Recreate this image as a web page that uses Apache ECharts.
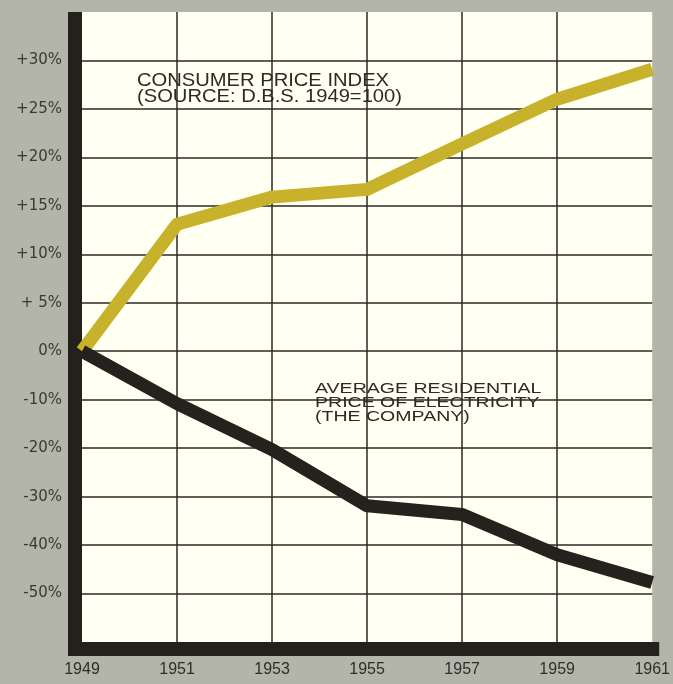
<!DOCTYPE html>
<html>
<head>
<meta charset="utf-8">
<script src="https://cdn.jsdelivr.net/npm/echarts@6/dist/echarts.min.js"></script>
<style>
  html, body { margin: 0; padding: 0; background: #b3b4aa; }
  #chart { width: 673px; height: 684px; }
</style>
</head>
<body>
<div id="chart"></div>
<script>
// Years on the horizontal axis
const years = [1949, 1951, 1953, 1955, 1957, 1959, 1961];

// Consumer price index, % change from 1949
const cpiPercent = [0, 13.1, 15.9, 16.7, 21.4, 26.0, 29.1];

// Average residential price of electricity, % change from 1949
const electricityPercent = [0, -10.8, -20.3, -31.9, -33.7, -42.0, -47.7];

// Vertical scale: rises step by 5 points above zero, falls step by 10 below it
const tickSteps  = [-5, -4, -3, -2, -1, 0, 1, 2, 3, 4, 5, 6];
const tickLabels = ['-50%', '-40%', '-30%', '-20%', '-10%', '0%',
                    '+ 5%', '+10%', '+15%', '+20%', '+25%', '+30%'];

function toStep(p) { return p >= 0 ? p / 5 : p / 10; }

const cpiSeries = years.map((y, i) => [y, toStep(cpiPercent[i])]);
const elecSeries = years.map((y, i) => [y, toStep(electricityPercent[i])]);

const ink = '#24211c';
const chart = echarts.init(document.getElementById('chart'));

chart.setOption({
  backgroundColor: '#b3b4aa',
  animation: false,
  grid: {
    left: 82, right: 17, top: 12, bottom: 42,
    show: true, backgroundColor: '#fffff2', borderWidth: 0
  },
  xAxis: {
    type: 'value', min: 1949, max: 1961, interval: 2,
    offset: 7,
    axisLine: { show: true, onZero: false, lineStyle: { color: ink, width: 14, cap: 'square' } },
    axisTick: { show: false },
    axisLabel: {
      margin: 13, color: '#2e2e2a', fontSize: 16,
      fontFamily: 'Liberation Sans, Arial, sans-serif',
      formatter: v => String(v)
    },
    splitLine: { show: true, showMinLine: false, showMaxLine: false,
                 lineStyle: { color: '#2a2824', width: 1.5 } }
  },
  yAxis: {
    type: 'value', min: -6, max: 7, interval: 1,
    offset: 7,
    axisLine: { show: true, onZero: false, lineStyle: { color: ink, width: 14, cap: 'butt' } },
    axisTick: { show: false },
    axisLabel: {
      margin: 13, color: '#3a3a35', fontSize: 15,
      fontFamily: '"DejaVu Sans", sans-serif',
      formatter: v => {
        const i = tickSteps.indexOf(v);
        return i >= 0 ? tickLabels[i] : '';
      }
    },
    splitLine: { show: true, showMinLine: false, showMaxLine: false,
                 lineStyle: { color: '#2a2824', width: 1.5 } }
  },
  graphic: [
    { type: 'rect', shape: { x: 68, y: 641, width: 14, height: 15 },
      style: { fill: ink }, z: 10 },
    { type: 'text', x: 137, y: 73, scaleX: 1.12, z: 10,
      style: {
        text: 'CONSUMER PRICE INDEX\n(SOURCE: D.B.S. 1949=100)',
        font: '18px "Liberation Sans", Arial, sans-serif',
        fill: '#2b2a26', lineHeight: 16
      } },
    { type: 'text', x: 315, y: 382, scaleX: 1.26, z: 10,
      style: {
        text: 'AVERAGE RESIDENTIAL\nPRICE OF ELECTRICITY\n(THE COMPANY)',
        font: '15.5px "Liberation Sans", Arial, sans-serif',
        fill: '#2b2a26', lineHeight: 14
      } }
  ],
  series: [
    {
      name: 'Consumer price index', type: 'line', data: cpiSeries,
      symbol: 'none', z: 3,
      lineStyle: { color: '#c9b22b', width: 13, join: 'round' }
    },
    {
      name: 'Average residential price of electricity', type: 'line', data: elecSeries,
      symbol: 'none', z: 4,
      lineStyle: { color: '#25221d', width: 13, join: 'round' }
    }
  ]
});
</script>
</body>
</html>
